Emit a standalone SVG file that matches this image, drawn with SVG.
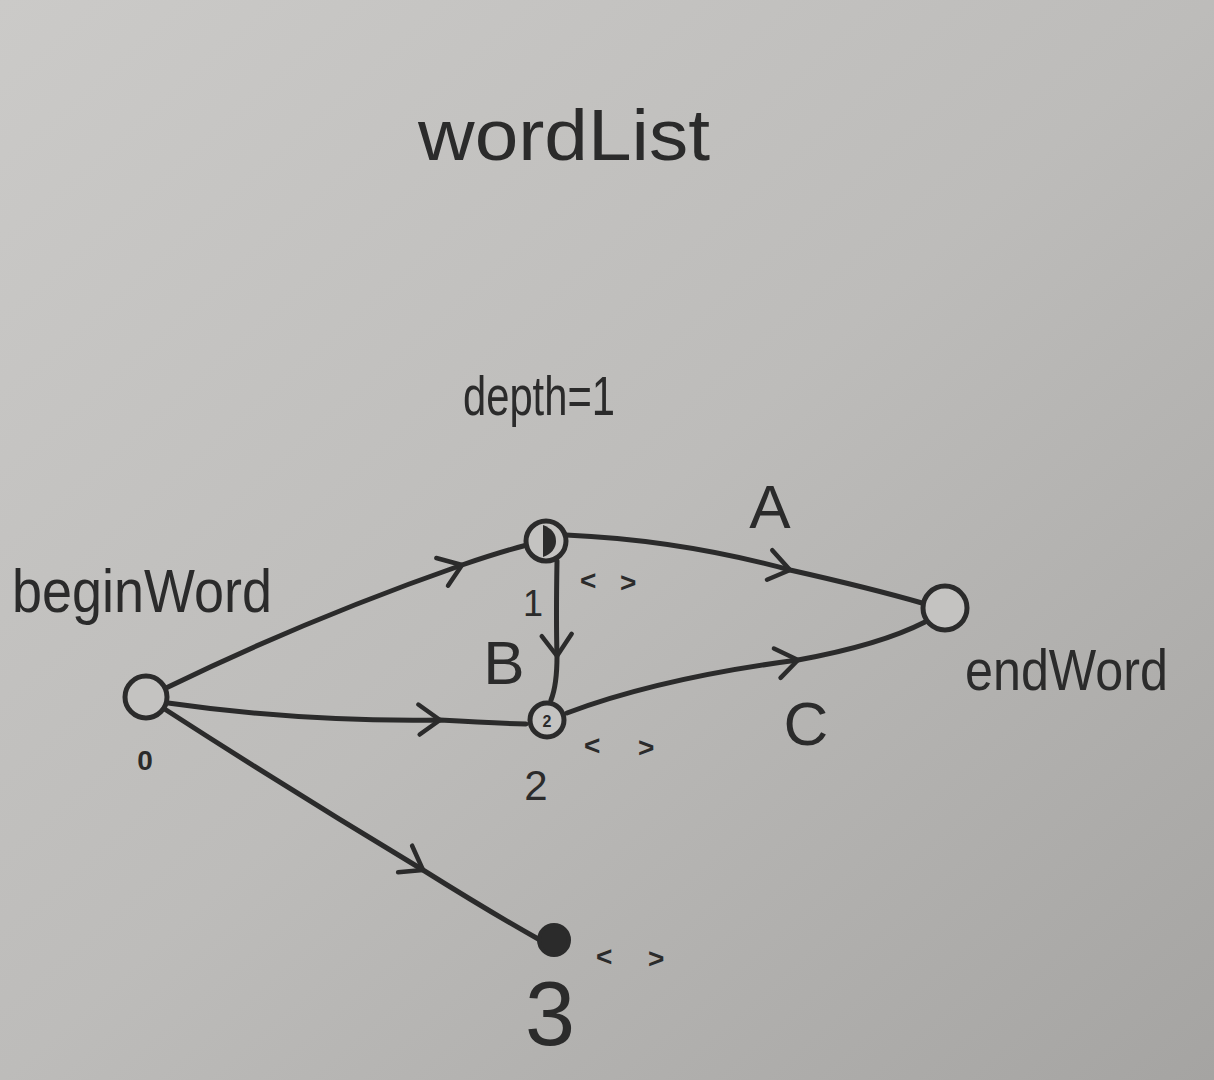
<svg xmlns="http://www.w3.org/2000/svg" width="1214" height="1080" viewBox="0 0 1214 1080">
<defs>
<linearGradient id="bg" x1="0" y1="0" x2="1" y2="1">
<stop offset="0" stop-color="#cbcac8"/>
<stop offset="0.5" stop-color="#bdbcba"/>
<stop offset="1" stop-color="#a5a4a2"/>
</linearGradient>
<marker id="chev" markerUnits="userSpaceOnUse" markerWidth="44" markerHeight="44" viewBox="0 0 44 44" refX="28" refY="22" orient="auto">
<path d="M6,7 L28,22 L8,37" fill="none" stroke="#2b2b2b" stroke-width="4.5" stroke-linecap="round" stroke-linejoin="round"/>
</marker>
<style>
.ink{fill:none;stroke:#2b2b2b;stroke-width:5;stroke-linecap:round}
.node{fill:#c4c3c1;stroke:#2b2b2b;stroke-width:5}
.t{font-family:"Liberation Sans","DejaVu Sans",sans-serif;fill:#2b2b2b}
.lab{font-family:"Liberation Sans","DejaVu Sans",sans-serif;fill:#2b2b2b;font-weight:bold;font-size:28px}
</style>
</defs>
<rect width="1214" height="1080" fill="url(#bg)"/>

<text class="t" x="418" y="160" font-size="72" textLength="292" lengthAdjust="spacingAndGlyphs">wordList</text>
<text class="t" x="463" y="415" font-size="56" textLength="152" lengthAdjust="spacingAndGlyphs">depth=1</text>

<g id="connectors">
<path class="ink" marker-mid="url(#chev)" d="M166,688 Q305,620 462,565 Q500,552 527,545"/>
<path class="ink" marker-mid="url(#chev)" d="M168,703 Q300,722 440,720 Q490,723 526,724"/>
<path class="ink" marker-mid="url(#chev)" d="M163,708 Q290,790 423,870 Q490,912 540,940"/>
<path class="ink" marker-mid="url(#chev)" d="M566,535 Q680,540 790,570 Q870,588 922,603"/>
<path class="ink" marker-mid="url(#chev)" d="M567,713 Q660,678 798,660 Q880,645 925,622"/>
<path class="ink" marker-mid="url(#chev)" d="M557,561 Q556,620 557,656 Q557,685 551,700"/>
</g>

<g id="node-begin">
<circle class="node" cx="146" cy="697" r="21"/>
<text class="t" x="145" y="770" font-size="28" text-anchor="middle" font-weight="bold">0</text>
<text class="t" x="12" y="612" font-size="62" textLength="260" lengthAdjust="spacingAndGlyphs">beginWord</text>
</g>

<g id="node-1">
<circle class="node" cx="546" cy="541" r="20"/>
<path d="M543,525 Q556,530 556,541 Q556,552 543,557 Z" fill="#2b2b2b"/>
<text class="t" x="533" y="616" font-size="36" text-anchor="middle">1</text>
<text class="lab" x="580" y="590">&lt;</text>
<text class="lab" x="620" y="592">&gt;</text>
</g>

<g id="node-2">
<circle class="node" cx="547" cy="720" r="17"/>
<text class="t" x="547" y="727" font-size="16" text-anchor="middle" font-weight="bold">2</text>
<text class="t" x="536" y="800" font-size="42" text-anchor="middle">2</text>
<text class="lab" x="584" y="755">&lt;</text>
<text class="lab" x="638" y="757">&gt;</text>
</g>

<g id="node-3">
<circle cx="554" cy="940" r="15" fill="#2b2b2b" stroke="#2b2b2b" stroke-width="4"/>
<text class="t" x="550" y="1045" font-size="90" text-anchor="middle">3</text>
<text class="lab" x="596" y="966">&lt;</text>
<text class="lab" x="648" y="968">&gt;</text>
</g>

<g id="node-end">
<circle class="node" cx="945" cy="608" r="22"/>
<text class="t" x="965" y="690" font-size="58" textLength="203" lengthAdjust="spacingAndGlyphs">endWord</text>
</g>

<g id="edge-labels">
<text class="t" x="770" y="528" font-size="62" text-anchor="middle">A</text>
<text class="t" x="504" y="684" font-size="62" text-anchor="middle">B</text>
<text class="t" x="806" y="745" font-size="62" text-anchor="middle">C</text>
</g>
</svg>
